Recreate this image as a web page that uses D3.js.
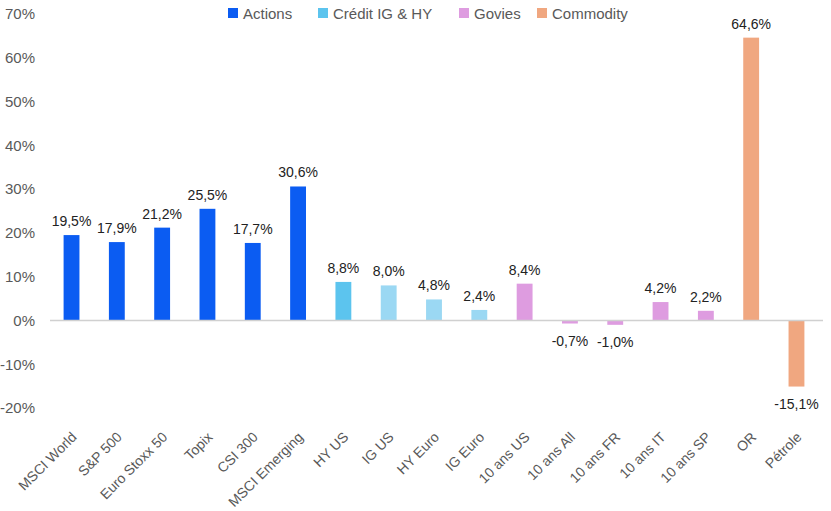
<!DOCTYPE html>
<html>
<head>
<meta charset="utf-8">
<script src="https://cdn.jsdelivr.net/npm/d3@7"></script>
<style>
  body { margin: 0; background: #fff; }
  text { font-family: "Liberation Sans", Arial, sans-serif; }
</style>
</head>
<body>
<div id="chart"></div>
<script>
var categories = ["MSCI World", "S&P 500", "Euro Stoxx 50", "Topix", "CSI 300", "MSCI Emerging",
    "HY US", "IG US", "HY Euro", "IG Euro",
    "10 ans US", "10 ans All", "10 ans FR", "10 ans IT", "10 ans SP",
    "OR", "Pétrole"];
var values = [19.5, 17.9, 21.2, 25.5, 17.7, 30.6,
    8.8, 8.0, 4.8, 2.4,
    8.4, -0.7, -1.0, 4.2, 2.2,
    64.6, -15.1];
var groups = ["Actions", "Actions", "Actions", "Actions", "Actions", "Actions",
    "Crédit IG & HY", "Crédit IG & HY", "Crédit IG & HY", "Crédit IG & HY",
    "Govies", "Govies", "Govies", "Govies", "Govies",
    "Commodity", "Commodity"];
var legendNames = ["Actions", "Crédit IG & HY", "Govies", "Commodity"];
var yTicks = [-20, -10, 0, 10, 20, 30, 40, 50, 60, 70];

var groupColor = { "Actions": "#0b5cf2", "Crédit IG & HY": "#5cc4ee", "Govies": "#de9ce0", "Commodity": "#f0a780" };
var lightCredit = "#9bd8f3";

var margin = { top: 14, right: 8, bottom: 103, left: 50 },
    W = 831, H = 511,
    width = W - margin.left - margin.right,
    height = H - margin.top - margin.bottom;

var svg = d3.select("#chart").append("svg")
    .attr("width", W)
    .attr("height", H);

var g = svg.append("g")
    .attr("transform", "translate(" + margin.left + "," + margin.top + ")");

var x = d3.scaleBand()
    .domain(categories)
    .range([0, width - 5])
    .paddingInner(0.65)
    .paddingOuter(0.3);

var y = d3.scaleLinear()
    .domain([-20, 70])
    .range([height, 0]);

function color(d, i) {
    if (groups[i] == "Crédit IG & HY" && categories[i] != "HY US") return lightCredit;
    return groupColor[groups[i]];
}

// y axis labels
var yAxis = g.append("g")
    .call(d3.axisLeft(y).tickValues(yTicks).tickSize(0).tickPadding(15)
        .tickFormat(function (d) { return d + "%"; }));
yAxis.select(".domain").remove();
yAxis.selectAll("text")
    .attr("fill", "#595959")
    .style("font-size", "15px");

// bars
g.selectAll(".bar")
    .data(values)
    .enter().append("rect")
    .attr("class", "bar")
    .attr("x", function (d, i) { return x(categories[i]); })
    .attr("width", x.bandwidth())
    .attr("y", function (d) { return y(Math.max(0, d)); })
    .attr("height", function (d) { return Math.abs(y(d) - y(0)); })
    .attr("fill", color);

// zero line
g.append("line")
    .attr("x1", 0)
    .attr("x2", width)
    .attr("y1", y(0))
    .attr("y2", y(0))
    .attr("stroke", "#d0d0d0")
    .attr("stroke-width", 1.5);

// value labels
g.selectAll(".label")
    .data(values)
    .enter().append("text")
    .attr("class", "label")
    .attr("text-anchor", "middle")
    .attr("fill", "#222")
    .style("font-size", "14px")
    .attr("x", function (d, i) { return x(categories[i]) + x.bandwidth() / 2; })
    .attr("y", function (d) { return d >= 0 ? y(d) - 9 : y(d) + 22; })
    .text(function (d) { return d.toFixed(1).replace(".", ",") + "%"; });

// x labels, rotated
var xAxis = g.append("g")
    .attr("transform", "translate(0," + (height + 6) + ")")
    .call(d3.axisBottom(x).tickSize(0).tickPadding(0));
xAxis.select(".domain").remove();
xAxis.selectAll("text")
    .attr("fill", "#595959")
    .style("font-size", "14px")
    .attr("text-anchor", "end")
    .attr("dy", "0")
    .attr("transform", "translate(6,24) rotate(-45)");

// legend
var legendX = [228, 318, 459, 537];
var lg = svg.selectAll(".legend")
    .data(legendNames)
    .enter().append("g")
    .attr("class", "legend")
    .attr("transform", function (d, i) { return "translate(" + legendX[i] + ",8)"; });
lg.append("rect")
    .attr("width", 10)
    .attr("height", 10)
    .attr("fill", function (d) { return groupColor[d]; });
lg.append("text")
    .attr("x", 15)
    .attr("y", 11)
    .attr("fill", "#595959")
    .style("font-size", "15px")
    .text(function (d) { return d; });
</script>
</body>
</html>
